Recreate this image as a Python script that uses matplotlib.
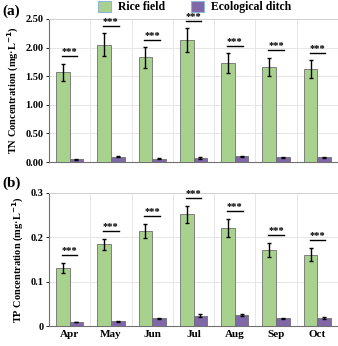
import matplotlib
matplotlib.use("Agg")
import matplotlib.pyplot as plt
import numpy as np
from matplotlib.patches import Patch

months = ["Apr", "May", "Jun", "Jul", "Aug", "Sep", "Oct"]
tn_rice = [1.57, 2.05, 1.83, 2.13, 1.73, 1.66, 1.62]
tn_rice_err = [0.15, 0.20, 0.18, 0.21, 0.17, 0.16, 0.16]
tn_ditch = [0.05, 0.09, 0.06, 0.07, 0.10, 0.08, 0.08]
tn_ditch_err = [0.01, 0.01, 0.01, 0.01, 0.01, 0.005, 0.005]
tp_rice = [0.131, 0.184, 0.215, 0.252, 0.221, 0.172, 0.161]
tp_rice_err = [0.011, 0.012, 0.016, 0.019, 0.020, 0.016, 0.015]
tp_ditch = [0.009, 0.011, 0.017, 0.023, 0.024, 0.017, 0.018]
tp_ditch_err = [0.001, 0.001, 0.002, 0.003, 0.002, 0.001, 0.002]
sig = ["***"] * 7

plt.rcParams['font.family'] = ['Liberation Serif', 'DejaVu Serif']
plt.rcParams['font.weight'] = 'bold'

green = "#a9d18e"
purple = "#8068a8"

fig = plt.figure(figsize=(3.38, 3.46), dpi=100)
ax1 = fig.add_axes([49/338, 1-162/346, 289/338, 143/346])
ax2 = fig.add_axes([49/338, 1-326/346, 289/338, 133/346])

x = np.arange(len(months))
w = 0.33

def draw(ax, rice, rerr, ditch, derr, ymax, yticks, yfmt, off, ylabel):
    ax.bar(x - w/2, rice, w, color=green, edgecolor="#6f6f6f", linewidth=0.6, zorder=3)
    ax.bar(x + w/2, ditch, w, color=purple, edgecolor="#6f6f6f", linewidth=0.6, zorder=3)
    ax.errorbar(x - w/2, rice, yerr=rerr, fmt="none", ecolor="black", elinewidth=1.0, capsize=1.5, capthick=1.0, zorder=4)
    ax.errorbar(x + w/2, ditch, yerr=derr, fmt="none", ecolor="black", elinewidth=1.0, capsize=1.5, capthick=1.0, zorder=4)
    for i in range(len(months)):
        top = rice[i] + rerr[i] + off
        ax.plot([x[i] - 0.19, x[i] + 0.19], [top, top], color="black", lw=1.0, zorder=4)
        ax.text(x[i], top, sig[i], ha="center", va="bottom", fontsize=7.5, fontweight="bold")
    ax.set_xlim(-0.5, len(months) - 0.5)
    ax.set_ylim(0, ymax)
    ax.set_yticks(yticks)
    ax.set_yticklabels([yfmt.format(v) for v in yticks], fontsize=7.5, fontweight="bold")
    ax.set_xticks(np.arange(len(months)) + 0.5, minor=True)
    ax.grid(True, which="minor", axis="x", color="#e6e6e6", lw=0.7, zorder=0)
    ax.grid(True, which="major", axis="y", color="#e6e6e6", lw=0.7, zorder=0)
    ax.tick_params(axis="x", which="both", length=0)
    ax.tick_params(axis="y", length=2, width=0.6, pad=2)
    for s in ["top", "right"]:
        ax.spines[s].set_color("#d0d0d0")
        ax.spines[s].set_linewidth(0.7)
    for s in ["left", "bottom"]:
        ax.spines[s].set_color("#707070")
        ax.spines[s].set_linewidth(0.8)
    ax.set_ylabel(ylabel, fontsize=7.5, fontweight="bold", labelpad=3)

draw(ax1, tn_rice, tn_rice_err, tn_ditch, tn_ditch_err, 2.5,
     [0, 0.5, 1.0, 1.5, 2.0, 2.5], "{:.2f}", 0.13, "TN Concentration (mg·L$^{\\mathbf{-1}}$)")
ax1.set_xticks(x)
ax1.set_xticklabels([])
draw(ax2, tp_rice, tp_rice_err, tp_ditch, tp_ditch_err, 0.3,
     [0, 0.1, 0.2, 0.3], "{:g}", 0.018, "TP Concentration (mg·L$^{\\mathbf{-1}}$)")
ax2.set_xticks(x)
ax2.set_xticklabels(months, fontsize=8, fontweight="bold")
ax2.tick_params(axis="x", pad=3)

fig.text(2/338, 1-11/346, "(a)", fontsize=11, fontweight="bold", va="center", ha="left")
fig.text(2/338, 1-183/346, "(b)", fontsize=11, fontweight="bold", va="center", ha="left")

handles = [Patch(facecolor=green, edgecolor="#8fb4d9", lw=0.8, label="Rice field"),
           Patch(facecolor=purple, edgecolor="#8fb4d9", lw=0.8, label="Ecological ditch")]
fig.legend(handles=handles, loc="center", bbox_to_anchor=(195/338, 1-7/346), ncol=2,
           frameon=False, fontsize=8.5, handlelength=1.1, handleheight=1.1,
           columnspacing=2.2, handletextpad=0.6, borderpad=0, prop={'weight': 'bold', 'size': 8.5})

fig.savefig("out.png", dpi=100)
